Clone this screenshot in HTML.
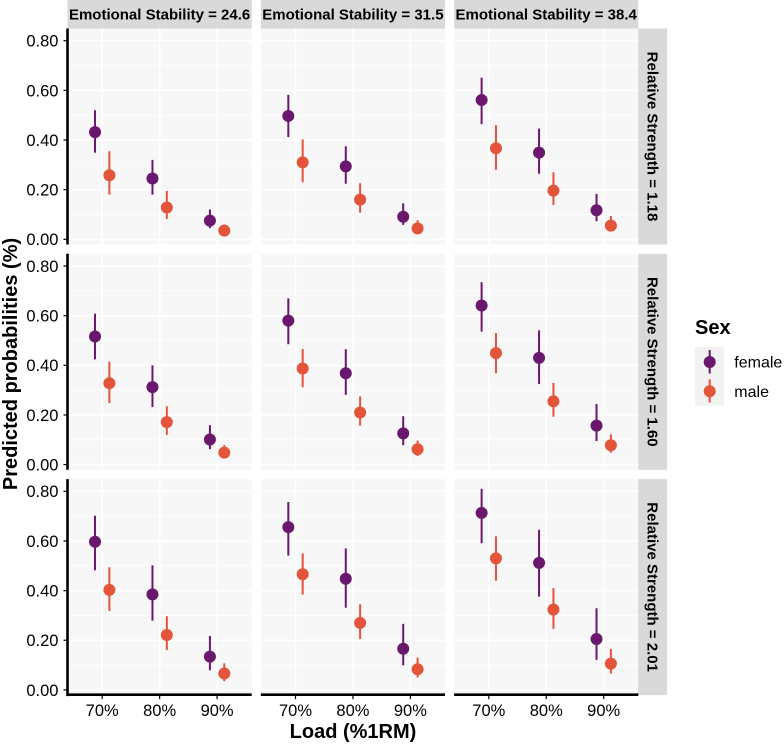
<!DOCTYPE html>
<html lang="en">
<head>
<meta charset="utf-8">
<title>Predicted probabilities by load, sex, emotional stability and relative strength</title>
<style>
html,body{margin:0;padding:0;background:#fff}
svg{display:block}
text{font-family:"Liberation Sans",Arial,sans-serif;fill:#000}
</style>
</head>
<body>
<svg id="chart" xmlns="http://www.w3.org/2000/svg" width="784" height="746" viewBox="0 0 784 746">
  <g id="panels"></g>
  <text x="353" y="738" text-anchor="middle" font-size="20" font-weight="700">Load (%1RM)</text>
  <text transform="translate(17,364) rotate(-90)" text-anchor="middle" font-size="20" font-weight="700">Predicted probabilities (%)</text>
  <g>
    <text x="695" y="334" font-size="20" font-weight="700">Sex</text>
    <rect x="695" y="347" width="29" height="58.6" fill="#f2f2f2"/>
    <g>
      <line x1="709.7" x2="709.7" y1="350" y2="373.5" stroke="#6a176e" stroke-width="2"/>
      <circle cx="709.7" cy="362" r="6" fill="#6a176e"/>
      <text x="734.3" y="367.5" font-size="16" fill="#111">female</text>
    </g>
    <g>
      <line x1="709.7" x2="709.7" y1="379.3" y2="402.5" stroke="#e4543a" stroke-width="2"/>
      <circle cx="709.7" cy="391.3" r="6" fill="#e4543a"/>
      <text x="734.3" y="397" font-size="16" fill="#111">male</text>
    </g>
  </g>
</svg>
<script>
// Facet labels and axis labels
const stabilityLabels = ['Emotional Stability = 24.6', 'Emotional Stability = 31.5', 'Emotional Stability = 38.4'];
const strengthLabels = ['Relative Strength = 1.18', 'Relative Strength = 1.60', 'Relative Strength = 2.01'];
const loadLabels = ['70%', '80%', '90%'];
const yTicks = [0, 0.2, 0.4, 0.6, 0.8];
const yTickLabels = ['0.00', '0.20', '0.40', '0.60', '0.80'];
const yMinorTicks = [0.1, 0.3, 0.5, 0.7];

// Values indexed [strength row][stability column][load]
const femaleEst = [
  [[0.432, 0.245, 0.075], [0.497, 0.294, 0.091], [0.561, 0.349, 0.117]],
  [[0.516, 0.312, 0.101], [0.580, 0.368, 0.126], [0.641, 0.430, 0.157]],
  [[0.597, 0.385, 0.134], [0.656, 0.448, 0.166], [0.713, 0.512, 0.205]]
];
const femaleLow = [
  [[0.349, 0.180, 0.045], [0.412, 0.224, 0.058], [0.464, 0.264, 0.073]],
  [[0.424, 0.232, 0.062], [0.485, 0.281, 0.078], [0.536, 0.325, 0.095]],
  [[0.482, 0.279, 0.079], [0.541, 0.331, 0.099], [0.591, 0.376, 0.121]]
];
const femaleHigh = [
  [[0.520, 0.320, 0.120], [0.582, 0.375, 0.145], [0.651, 0.446, 0.183]],
  [[0.608, 0.400, 0.159], [0.670, 0.465, 0.195], [0.735, 0.541, 0.244]],
  [[0.702, 0.502, 0.217], [0.757, 0.570, 0.266], [0.810, 0.645, 0.329]]
];
const maleEst = [
  [[0.258, 0.128, 0.035], [0.310, 0.160, 0.044], [0.367, 0.196, 0.055]],
  [[0.328, 0.171, 0.048], [0.387, 0.210, 0.062], [0.449, 0.255, 0.078]],
  [[0.403, 0.221, 0.066], [0.466, 0.270, 0.083], [0.530, 0.324, 0.106]]
];
const maleLow = [
  [[0.180, 0.082, 0.020], [0.230, 0.107, 0.025], [0.280, 0.138, 0.035]],
  [[0.248, 0.120, 0.028], [0.312, 0.157, 0.035], [0.368, 0.193, 0.048]],
  [[0.318, 0.161, 0.035], [0.384, 0.205, 0.050], [0.440, 0.246, 0.066]]
];
const maleHigh = [
  [[0.355, 0.195, 0.060], [0.403, 0.226, 0.077], [0.460, 0.270, 0.094]],
  [[0.415, 0.235, 0.079], [0.466, 0.275, 0.097], [0.530, 0.329, 0.122]],
  [[0.494, 0.297, 0.107], [0.550, 0.345, 0.130], [0.619, 0.410, 0.165]]
];

const SVG_NS = 'http://www.w3.org/2000/svg';
const panelRoot = document.getElementById('panels');
const PURPLE = '#6a176e';
const ORANGE = '#e4543a';

// Layout
const panelWidth = 184.2;
const panelHeight = 216;
const colStep = 193.3;
const rowStep = 225.3;
const panelLeft = col => 67.5 + col * colStep;
const panelTop = row => 28.5 + row * rowStep;

// Axis functions
function xScale(col, loadIndex, dodge) {
  return panelLeft(col) + 34.7 + (loadIndex + dodge) * 57.45;
}
function yScale(row, value) {
  return 239.3 + row * rowStep - value * 248.2;
}

function make(tag, parent, props, content) {
  const el = document.createElementNS(SVG_NS, tag);
  Object.keys(props).forEach(k => el.setAttribute(k, props[k]));
  if (content !== undefined) el.textContent = content;
  parent.appendChild(el);
  return el;
}

function drawSeries(parent, row, col, est, low, high, dodge, color, seriesName) {
  est[row][col].forEach((value, i) => {
    const x = xScale(col, i, dodge);
    const whisker = make('line', parent, {
      x1: x, x2: x,
      y1: yScale(row, low[row][col][i]), y2: yScale(row, high[row][col][i]),
      stroke: color, 'stroke-width': 2
    });
    
    
    const point = make('circle', parent, {
      cx: x, cy: yScale(row, value), r: 6, fill: color
    });
    
    
  });
}

strengthLabels.forEach((strength, row) => {
  stabilityLabels.forEach((stability, col) => {
    const left = panelLeft(col);
    const top = panelTop(row);
    const right = left + panelWidth;
    const bottom = top + panelHeight;
    const g = make('g', panelRoot, {});
    
    

    const bg = make('rect', g, { x: left, y: top, width: panelWidth, height: panelHeight, fill: '#f7f7f7' });
    
    

    yMinorTicks.forEach(t => {
      const line = make('line', g, { x1: left, x2: right, y1: yScale(row, t), y2: yScale(row, t), stroke: '#fff', 'stroke-width': 0.8 });
      
      
    });
    yTicks.forEach(t => {
      const line = make('line', g, { x1: left, x2: right, y1: yScale(row, t), y2: yScale(row, t), stroke: '#fff', 'stroke-width': 1.6 });
      
      
    });
    loadLabels.forEach((label, i) => {
      const x = xScale(col, i, 0);
      const line = make('line', g, { x1: x, x2: x, y1: top, y2: bottom, stroke: '#fff', 'stroke-width': 1.6 });
      
      
    });

    drawSeries(g, row, col, femaleEst, femaleLow, femaleHigh, -0.125, PURPLE, 'female');
    drawSeries(g, row, col, maleEst, maleLow, maleHigh, 0.125, ORANGE, 'male');

    if (row === 0) {
      const strip = make('rect', g, { x: left, y: 0, width: panelWidth, height: 28.5, fill: '#d9d9d9' });
      
      
      const label = make('text', g, { x: left + panelWidth / 2, y: 19.6, 'text-anchor': 'middle', 'font-size': 15, 'font-weight': 700 }, stability);
      
      
    }

    if (col === 2) {
      const strip = make('rect', g, { x: right, y: top, width: 28.8, height: panelHeight, fill: '#d9d9d9' });
      
      
      const label = make('text', g, {
        transform: 'translate(' + (right + 9.4) + ',' + (top + panelHeight / 2) + ') rotate(90)',
        'text-anchor': 'middle', 'font-size': 15, 'font-weight': 700
      }, strength);
      
      
    }

    if (col === 0) {
      const axis = make('line', g, { x1: left, x2: left, y1: top, y2: bottom + (row === 2 ? 1 : 0), stroke: '#000', 'stroke-width': 2.6 });
      
      
      yTicks.forEach((t, i) => {
        const tick = make('line', g, { x1: left - 4, x2: left, y1: yScale(row, t), y2: yScale(row, t), stroke: '#000', 'stroke-width': 1.2 });
        
        
        const label = make('text', g, { x: left - 9, y: yScale(row, t) + 5.9, 'text-anchor': 'end', 'font-size': 16.5, fill: '#111' }, yTickLabels[i]);
        
        
      });
    }

    if (row === 2) {
      const axis = make('line', g, { x1: left, x2: right, y1: bottom - 0.4, y2: bottom - 0.4, stroke: '#000', 'stroke-width': 2.6 });
      
      
      loadLabels.forEach((text, i) => {
        const x = xScale(col, i, 0);
        const tick = make('line', g, { x1: x, x2: x, y1: bottom, y2: bottom + 4, stroke: '#000', 'stroke-width': 1.2 });
        
        
        const label = make('text', g, { x: x, y: 716, 'text-anchor': 'middle', 'font-size': 16.5, fill: '#111' }, text);
        
        
      });
    }
  });
});
</script>
</body>
</html>
